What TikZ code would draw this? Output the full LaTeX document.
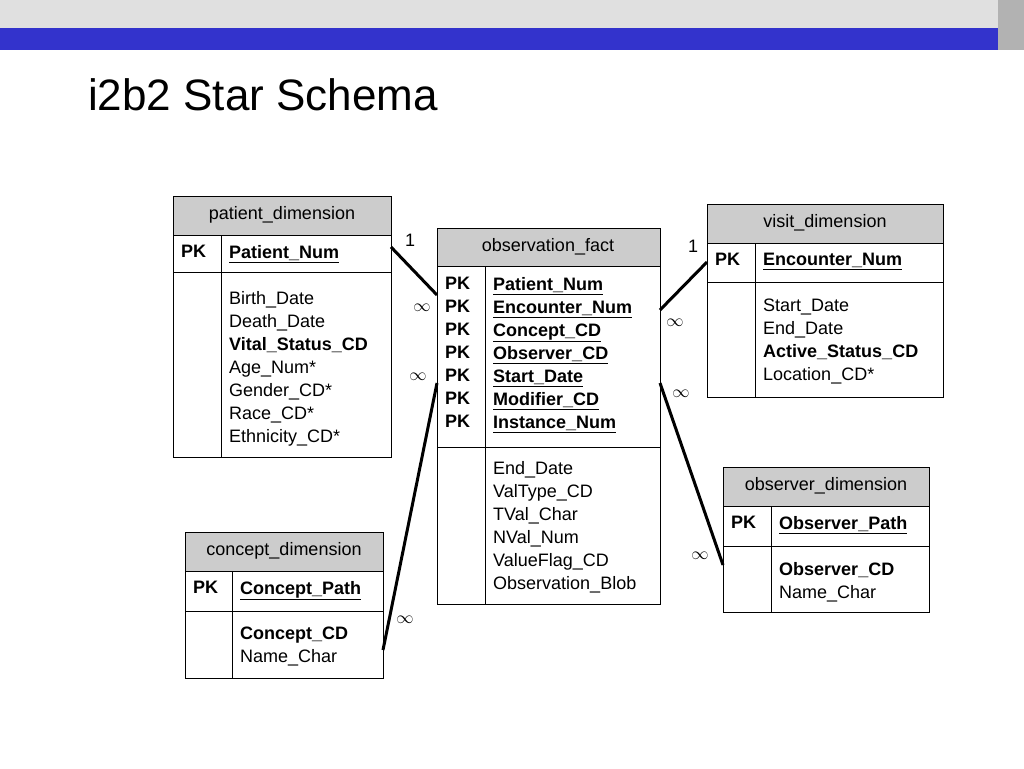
\documentclass[tikz,border=0pt]{standalone}
\usepackage{fontspec}
\setmainfont{Liberation Sans}
\begin{document}
\begin{tikzpicture}[x=1pt,y=-1pt,
  hdr/.style={draw=black,fill=black!20,line width=0.8pt},
  box/.style={draw=black,line width=0.8pt},
  txt/.style={font=\fontsize{18}{23}\selectfont,anchor=north west,inner sep=0pt,align=left},
  htxt/.style={font=\fontsize{18}{23}\selectfont,inner sep=0pt},
  conn/.style={line width=3pt},
  lab/.style={font=\fontsize{18}{20}\selectfont,inner sep=0pt}]
\useasboundingbox (0,0) rectangle (1024,768);
\fill[black!12] (0,0) rectangle (1024,28);
\fill[blue!60!black!90!white, fill={rgb,255:red,51;green,51;blue,204}] (0,28) rectangle (998,50);
\fill[black!30] (998,0) rectangle (1024,50);
\node[anchor=west,inner sep=0pt,font=\fontsize{44}{50}\selectfont] (title) at (88,95) {i2b2 Star Schema};
% patient
\draw[hdr] (173,196) rectangle (391,235);
\node[htxt] (ph) at (282,215) {patient\_dimension};
\draw[box] (173,235) rectangle (391,457);
\draw[box] (173,272) -- (391,272);
\draw[box] (221,235) -- (221,457);
\node[txt,font=\bfseries\fontsize{18}{23}\selectfont] (ppk) at (181,245) {PK};
\node[txt,font=\bfseries\fontsize{18}{23}\selectfont] (ppn) at (229,245) {\underline{Patient\_Num}};
\node[txt] (pb) at (229,291) {Birth\_Date\\Death\_Date\\\textbf{Vital\_Status\_CD}\\Age\_Num*\\Gender\_CD*\\Race\_CD*\\Ethnicity\_CD*};
\coordinate (pR) at (391,247);
% observation
\draw[hdr] (437,228) rectangle (660,266);
\node[htxt] (oh) at (548,247) {observation\_fact};
\draw[box] (437,266) rectangle (660,604);
\draw[box] (437,447) -- (660,447);
\draw[box] (485,266) -- (485,604);
\node[txt,font=\bfseries\fontsize{18}{23}\selectfont] (opk) at (445,277) {PK\\PK\\PK\\PK\\PK\\PK\\PK};
\node[txt,font=\bfseries\fontsize{18}{23}\selectfont] (ok) at (493,277) {\underline{Patient\_Num}\\\underline{Encounter\_Num}\\\underline{Concept\_CD}\\\underline{Observer\_CD}\\\underline{Start\_Date}\\\underline{Modifier\_CD}\\\underline{Instance\_Num}};
\node[txt] (ob) at (493,461) {End\_Date\\ValType\_CD\\TVal\_Char\\NVal\_Num\\ValueFlag\_CD\\Observation\_Blob};
\coordinate (oL1) at (437,295);
\coordinate (oL2) at (437,383);
\coordinate (oR1) at (660,310);
\coordinate (oR2) at (660,383);
% visit
\draw[hdr] (707,204) rectangle (943,243);
\node[htxt] (vh) at (825,223) {visit\_dimension};
\draw[box] (707,243) rectangle (943,397);
\draw[box] (707,282) -- (943,282);
\draw[box] (755,243) -- (755,397);
\node[txt,font=\bfseries\fontsize{18}{23}\selectfont] (vpk) at (715,253) {PK};
\node[txt,font=\bfseries\fontsize{18}{23}\selectfont] (ven) at (763,253) {\underline{Encounter\_Num}};
\node[txt] (vb) at (763,299) {Start\_Date\\End\_Date\\\textbf{Active\_Status\_CD}\\Location\_CD*};
\coordinate (vL) at (707,262);
% observer
\draw[hdr] (723,467) rectangle (929,506);
\node[htxt] (rh) at (826,486) {observer\_dimension};
\draw[box] (723,506) rectangle (929,612);
\draw[box] (723,546) -- (929,546);
\draw[box] (771,506) -- (771,612);
\node[txt,font=\bfseries\fontsize{18}{23}\selectfont] (rpk) at (731,516) {PK};
\node[txt,font=\bfseries\fontsize{18}{23}\selectfont] (rop) at (779,516) {\underline{Observer\_Path}};
\node[txt] (rb) at (779,562) {\textbf{Observer\_CD}\\Name\_Char};
\coordinate (rL) at (723,565);
% concept
\draw[hdr] (185,532) rectangle (383,571);
\node[htxt] (ch) at (284,551) {concept\_dimension};
\draw[box] (185,571) rectangle (383,678);
\draw[box] (185,611) -- (383,611);
\draw[box] (232,571) -- (232,678);
\node[txt,font=\bfseries\fontsize{18}{23}\selectfont] (cpk) at (193,581) {PK};
\node[txt,font=\bfseries\fontsize{18}{23}\selectfont] (ccp) at (240,581) {\underline{Concept\_Path}};
\node[txt] (cb) at (240,627) {\textbf{Concept\_CD}\\Name\_Char};
\coordinate (cR) at (383,650);
% connectors
\draw[conn] (pR) -- (oL1);
\draw[conn] (cR) -- (oL2);
\draw[conn] (vL) -- (oR1);
\draw[conn] (oR2) -- (rL);
\node[lab] (l1) at (410,240) {1};
\node[lab] (l2) at (422,308) {$\infty$};
\node[lab] (l3) at (418,377) {$\infty$};
\node[lab] (l4) at (405,620) {$\infty$};
\node[lab] (l5) at (693,246) {1};
\node[lab] (l6) at (675,323) {$\infty$};
\node[lab] (l7) at (681,394) {$\infty$};
\node[lab] (l8) at (700,556) {$\infty$};
\end{tikzpicture}
\end{document}
